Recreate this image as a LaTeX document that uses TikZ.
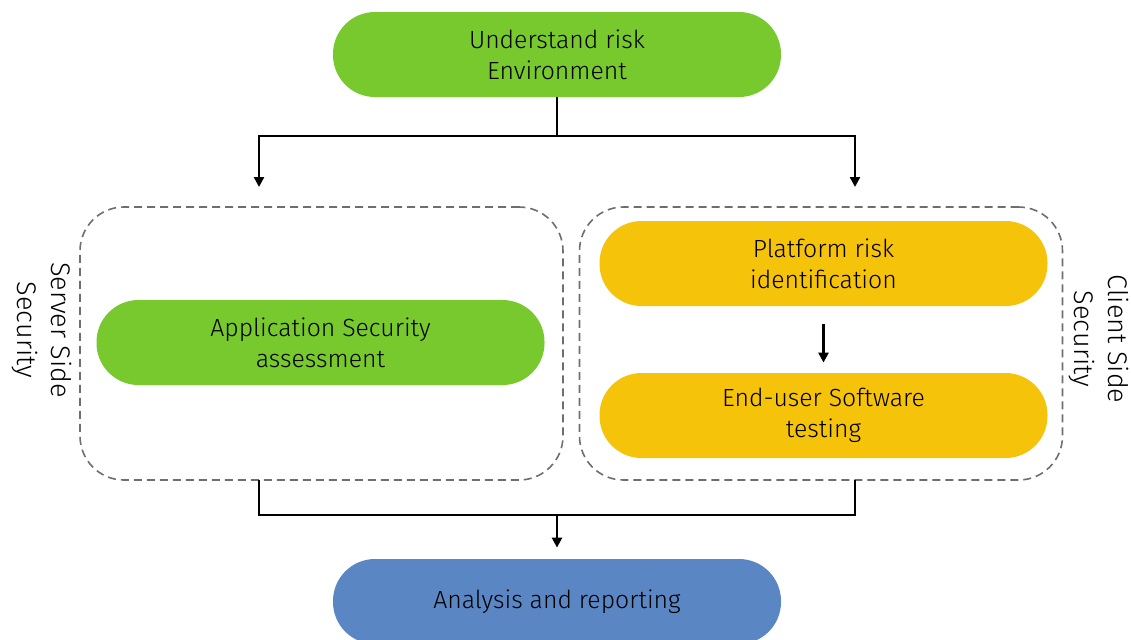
\documentclass[tikz,border=0pt]{standalone}
\usepackage{fontspec}
\setmainfont{Fira Sans}[UprightFont=* Light]
\usepackage{xcolor}
\usetikzlibrary{positioning, calc, arrows.meta}

\definecolor{stepgreen}{HTML}{77C92E}
\definecolor{stepyellow}{HTML}{F5C30A}
\definecolor{stepblue}{HTML}{5A86C4}
\definecolor{zonegray}{HTML}{6E6E6E}

\tikzset{
  pill/.style={rounded corners=21pt, minimum width=224pt, minimum height=42.5pt,
    align=center, font=\fontsize{12.4}{15.5}\selectfont, inner sep=0pt},
  zone/.style={draw=zonegray, dash pattern=on 4pt off 2.5pt, line width=0.8pt, rounded corners=22pt,
    minimum width=241.5pt, minimum height=136.5pt, inner sep=0pt},
  link/.style={line width=1.2pt},
  arrow/.style={link, -{Triangle[width=5pt,length=5pt]}},
  sidelabel/.style={rotate=-90, align=center, font=\fontsize{13.5}{17}\selectfont}
}

\begin{document}
\begin{tikzpicture}[x=0.5pt, y=-0.5pt]
        \useasboundingbox (0,0) rectangle (1131,639);

        % the two dashed zones
        \node[zone] (server) at (321.5,343.5) {};
        \node[zone] (client) at (821,343.5) {};
        \node[sidelabel] (serverlbl) at (42,330) {Server Side\\Security};
        \node[sidelabel] (clientlbl) at (1099,339) {Client Side\\Security};

        % process steps
        \node[pill, fill=stepgreen] (understand) at (557,54.5) {Understand risk\\Environment};
        \node[pill, fill=stepgreen] (appsec) at (320.5,342.5) {Application Security\\assessment};
        \node[pill, fill=stepyellow] (platform) at (823.5,263.5) {Platform risk\\identification};
        \node[pill, fill=stepyellow] (enduser) at (823.5,415.5) {End-user Software\\testing};
        \node[pill, fill=stepblue] (analysis) at (557,601.5) {Analysis and reporting};

        % split and join points
        \coordinate (split) at (557,136);
        \coordinate (srvin) at (259,187);
        \coordinate (cliin) at (855,187);
        \coordinate (srvout) at (259,480);
        \coordinate (cliout) at (855,480);
        \coordinate (join) at (557,515);

        \draw[link] (understand.south) -- (split);
        \draw[arrow] (split) -| (srvin);
        \draw[arrow] (split) -| (cliin);
        \draw[arrow, shorten <=9pt, shorten >=5pt] (platform.south) -- (enduser.north);
        \draw[link] (srvout) |- (join) -| (cliout);
        \draw[arrow, shorten >=5.5pt] (join) -- (analysis.north);
    \end{tikzpicture}
\end{document}
